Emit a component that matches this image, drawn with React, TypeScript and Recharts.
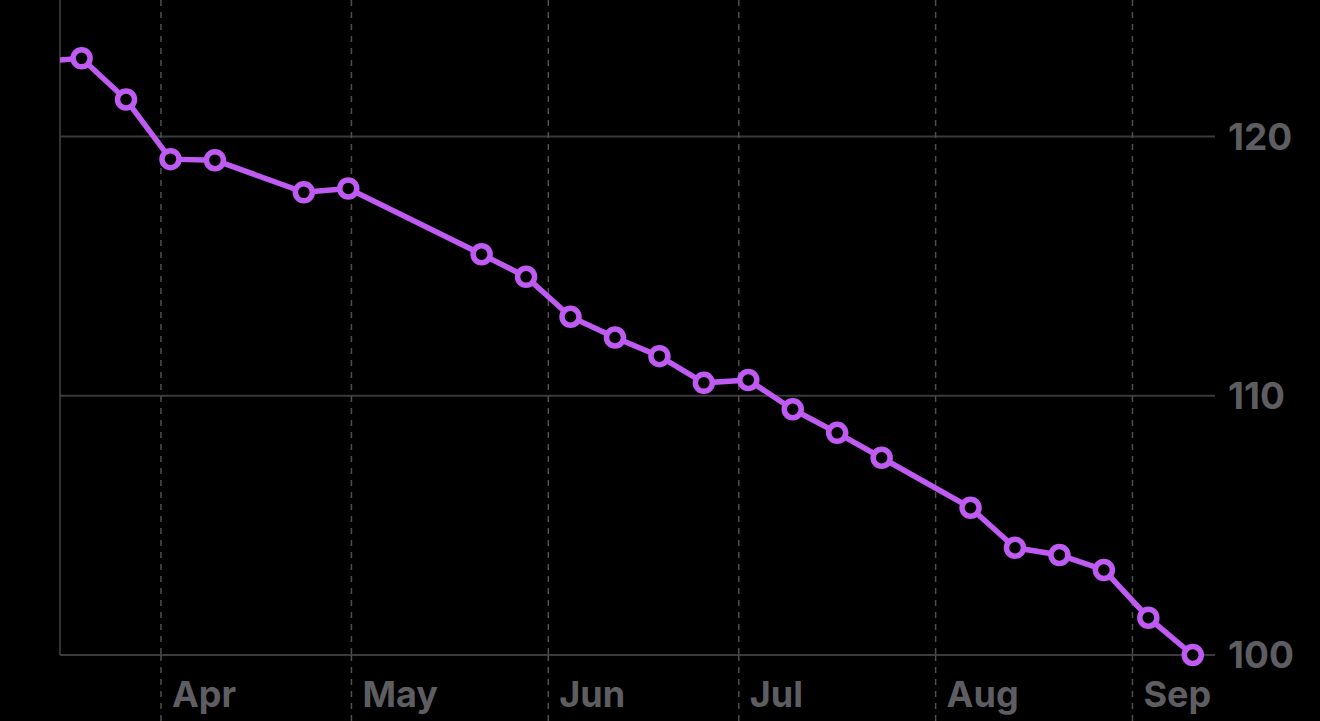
import React from "react";
import {
  LineChart,
  Line,
  XAxis,
  YAxis,
  CartesianGrid,
  ReferenceLine,
} from "recharts";

// weekly readings, day 0 = 1 Apr (first one sits just left of the visible range)
const DAYS = [
  -19.5, -12.5, -5.5, 1.5, 8.5, 22.5, 29.5, 50.5, 57.5, 64.5, 71.5, 78.5,
  85.5, 92.5, 99.5, 106.5, 113.5, 127.5, 134.5, 141.5, 148.5, 155.5, 162.5,
];
const WEIGHT = [
  122.88, 123.02, 121.43, 119.13, 119.09, 117.85, 118.0, 115.46, 114.59,
  113.05, 112.25, 111.53, 110.5, 110.61, 109.48, 108.57, 107.61, 105.68,
  104.14, 103.86, 103.28, 101.44, 100.0,
];

const MONTH_DAYS = [0, 30, 61, 91, 122, 153];
const MONTH_LABELS = ["Apr", "May", "Jun", "Jul", "Aug", "Sep"];
const Y_TICKS = [100, 110, 120];

const X_MIN = -15.9;
const X_MAX = 166;

const PURPLE = "#bf5af2";
const LABEL = "#5e5e62";
const DASH = "#4e4e50";
const FONT = "Inter, 'Noto Sans', sans-serif";

const data = DAYS.map((d, i) => ({ day: d, weight: WEIGHT[i] }));

function MonthTick(props: any) {
  const { x, y, payload } = props;
  const idx = MONTH_DAYS.indexOf(payload.value);
  return (
    <g>
      <line
        x1={x}
        x2={x}
        y1={y}
        y2={y + 70}
        stroke={DASH}
        strokeWidth={1.5}
        strokeDasharray="6 6"
      />
      <text
        x={x + 11}
        y={y + 52}
        textAnchor="start"
        fill={LABEL}
        fontSize={36}
        fontWeight={700}
        fontFamily={FONT}
      >
        {MONTH_LABELS[idx]}
      </text>
    </g>
  );
}

export default function App() {
  return (
    <div
      style={{
        position: "fixed",
        left: 0,
        top: 0,
        width: 1320,
        height: 721,
        background: "#000",
      }}
    >
      <LineChart
        width={1320}
        height={721}
        data={data}
        margin={{ top: 0, right: 0, bottom: 0, left: 60 }}
      >
        <CartesianGrid
          vertical={false}
          syncWithTicks
          stroke="#3a3a3c"
          strokeWidth={2}
        />
        <CartesianGrid
          horizontal={false}
          syncWithTicks
          stroke={DASH}
          strokeWidth={1.5}
          strokeDasharray="6 6"
        />
        <XAxis
          dataKey="day"
          type="number"
          domain={[X_MIN, X_MAX]}
          allowDataOverflow
          ticks={MONTH_DAYS}
          interval={0}
          height={66}
          axisLine={false}
          tickLine={false}
          tickSize={0}
          tickMargin={0}
          tick={<MonthTick />}
        />
        <YAxis
          orientation="right"
          type="number"
          domain={[100, 125.27]}
          ticks={Y_TICKS}
          width={105}
          axisLine={false}
          tickLine={false}
          tickSize={0}
          tickMargin={13}
          tick={{
            fill: LABEL,
            fontSize: 37,
            fontWeight: 700,
            fontFamily: FONT,
            textAnchor: "start",
          }}
        />
        <ReferenceLine x={X_MIN} stroke="#444446" strokeWidth={1.5} />
        <Line
          type="linear"
          dataKey="weight"
          stroke={PURPLE}
          strokeWidth={5.5}
          dot={{ r: 8.5, fill: "#000", stroke: PURPLE, strokeWidth: 5.5 }}
          activeDot={false}
          isAnimationActive={false}
        />
      </LineChart>
    </div>
  );
}
